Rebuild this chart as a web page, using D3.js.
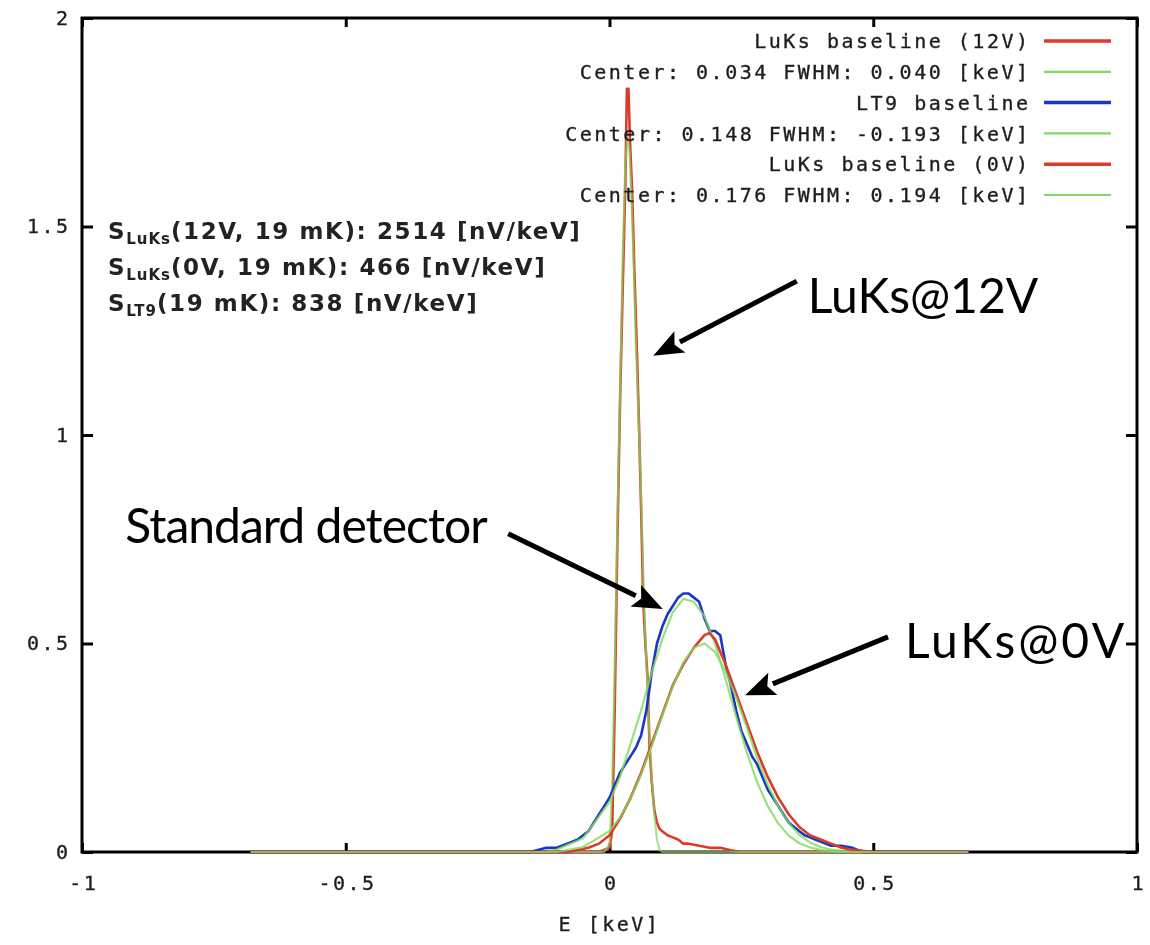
<!DOCTYPE html>
<html>
<head>
<meta charset="utf-8">
<script src="https://cdn.jsdelivr.net/npm/d3@7"></script>
<style>
  html, body { margin: 0; padding: 0; background: #fff; }
  svg { display: block; }
  .mono { font-family: "DejaVu Sans Mono", monospace; font-size: 20px; letter-spacing: 2.5px; fill: #1e1e1e; stroke: #1e1e1e; stroke-width: 0.35px; }
  .note { font-family: "DejaVu Sans", sans-serif; font-weight: bold; font-size: 23px; letter-spacing: 1.6px; fill: #222; }
  .big { font-family: Lato, "Open Sans", sans-serif; font-size: 48px; fill: #000; }
</style>
</head>
<body>
<svg id="chart" width="1150" height="945"></svg>
<script>
// Axis ticks
const xTicks = [-1, -0.5, 0, 0.5, 1];
const xTickLabels = ["-1", "-0.5", "0", "0.5", "1"];
const yTicks = [0, 0.5, 1, 1.5, 2];
const yTickLabels = ["0", "0.5", "1", "1.5", "2"];

// LuKs baseline at 12 V: histogram [E keV, counts]
const luks12V = [[-0.68,0],[-0.02,0],[0,0.01],[0.005,0.05],[0.01,0.35],[0.015,0.75],[0.02,1.08],[0.025,1.35],
  [0.03,1.6],[0.033,1.83],[0.036,1.83],[0.039,1.7],[0.043,1.58],[0.047,1.4],[0.052,1.2],[0.056,1.02],
  [0.06,0.82],[0.064,0.6],[0.068,0.5],[0.072,0.42],[0.076,0.25],[0.08,0.17],[0.085,0.1],[0.09,0.07],
  [0.095,0.055],[0.1,0.05],[0.11,0.04],[0.12,0.035],[0.13,0.03],[0.14,0.02],[0.15,0.02],[0.17,0.015],
  [0.19,0.01],[0.21,0.01],[0.23,0.004],[0.25,0],[0.68,0]];
// Gaussian fit of the 12 V baseline
const luks12VFit = [[-0.68,0],[-0.01,0],[0,0.02],[0.005,0.15],[0.01,0.45],[0.015,0.8],[0.02,1.1],[0.025,1.42],
  [0.03,1.65],[0.034,1.72],[0.038,1.68],[0.042,1.56],[0.046,1.4],[0.05,1.22],[0.055,1.05],[0.06,0.85],
  [0.065,0.62],[0.07,0.45],[0.075,0.3],[0.08,0.18],[0.085,0.09],[0.09,0.03],[0.095,0.005],[0.1,0],[0.68,0]];

// LT9 baseline histogram
const lt9 = [[-0.68,0],[-0.15,0],[-0.12,0.01],[-0.1,0.01],[-0.08,0.02],[-0.06,0.03],[-0.05,0.04],[-0.04,0.05],
  [-0.03,0.07],[-0.02,0.09],[-0.01,0.11],[0,0.13],[0.01,0.16],[0.02,0.19],[0.03,0.21],[0.04,0.23],
  [0.05,0.25],[0.06,0.28],[0.07,0.34],[0.08,0.43],[0.09,0.5],[0.1,0.54],[0.11,0.57],[0.12,0.59],
  [0.13,0.61],[0.14,0.62],[0.15,0.62],[0.16,0.61],[0.17,0.6],[0.18,0.56],[0.19,0.53],[0.2,0.53],
  [0.21,0.52],[0.22,0.45],[0.23,0.4],[0.24,0.34],[0.25,0.29],[0.26,0.26],[0.27,0.23],[0.28,0.21],
  [0.29,0.18],[0.3,0.15],[0.31,0.13],[0.32,0.11],[0.33,0.09],[0.34,0.07],[0.35,0.06],[0.36,0.05],
  [0.37,0.04],[0.38,0.035],[0.39,0.03],[0.4,0.025],[0.42,0.015],[0.44,0.015],[0.46,0.01],[0.48,0],[0.68,0]];
// Gaussian fit of the LT9 baseline
const lt9Fit = [[-0.68,0],[-0.12,0],[-0.1,0.006],[-0.05,0.033],[0,0.12],[0.02,0.18],[0.04,0.26],[0.06,0.34],
  [0.08,0.43],[0.1,0.51],[0.12,0.575],[0.14,0.607],[0.16,0.6],[0.18,0.565],[0.2,0.5],[0.22,0.415],
  [0.24,0.325],[0.26,0.24],[0.28,0.167],[0.3,0.11],[0.32,0.068],[0.34,0.039],[0.36,0.021],[0.38,0.011],
  [0.4,0.005],[0.42,0.002],[0.44,0],[0.68,0]];

// LuKs baseline at 0 V histogram
const luks0V = [[-0.68,0],[-0.08,0],[-0.06,0.005],[-0.04,0.01],[-0.02,0.02],[0,0.04],[0.02,0.08],[0.04,0.13],
  [0.06,0.19],[0.08,0.26],[0.1,0.33],[0.12,0.4],[0.14,0.45],[0.16,0.49],[0.18,0.52],[0.19,0.525],
  [0.2,0.51],[0.22,0.45],[0.24,0.38],[0.26,0.31],[0.28,0.24],[0.3,0.18],[0.32,0.13],[0.34,0.09],
  [0.36,0.06],[0.38,0.04],[0.4,0.03],[0.42,0.02],[0.44,0.01],[0.46,0.005],[0.5,0],[0.68,0]];
// Gaussian fit of the 0 V baseline
const luks0VFit = [[-0.68,0],[-0.1,0],[-0.05,0.012],[0,0.05],[0.02,0.083],[0.04,0.128],[0.06,0.186],
  [0.08,0.254],[0.1,0.327],[0.12,0.397],[0.14,0.455],[0.16,0.49],[0.18,0.5],[0.2,0.48],[0.22,0.433],
  [0.24,0.37],[0.26,0.3],[0.28,0.225],[0.3,0.161],[0.32,0.109],[0.34,0.069],[0.36,0.041],[0.38,0.023],
  [0.4,0.012],[0.42,0.006],[0.44,0.003],[0.46,0],[0.68,0]];

// Legend entries (top to bottom)
const legendLabels = ["LuKs baseline (12V)", "Center: 0.034 FWHM: 0.040 [keV]", "LT9 baseline",
  "Center: 0.148 FWHM: -0.193 [keV]", "LuKs baseline (0V)", "Center: 0.176 FWHM: 0.194 [keV]"];
const legendColors = ["#dd3a2c", "#7fd95e", "#1c35c4", "#7fd95e", "#dd3a2c", "#7fd95e"];

// Sensitivity notes
const noteSubs = ["LuKs", "LuKs", "LT9"];
const noteRest = ["(12V, 19 mK): 2514 [nV/keV]", "(0V, 19 mK): 466 [nV/keV]", "(19 mK): 838 [nV/keV]"];

// Callouts: label, label anchor (E, value), arrow tail and head (E, value)
const callouts = [
  { text: "LuKs@12V", at: [0.376, 1.293], from: [0.355, 1.369], to: [0.083, 1.19], ls: 0 },
  { text: "Standard detector", at: [-0.918, 0.741], from: [-0.192, 0.763], to: [0.101, 0.583], ls: -1 },
  { text: "LuKs@0V", at: [0.56, 0.465], from: [0.528, 0.516], to: [0.257, 0.376], ls: 2.8 }
];

const RED = "#dd3a2c", BLUE = "#1c35c4", GREEN = "#7fd95e";

const svg = d3.select("#chart");
const x = d3.scaleLinear().domain([-1, 1]).range([82, 1137]);
const y = d3.scaleLinear().domain([0, 2]).range([852, 18]);

// soft rendering for the plot panel
svg.append("defs").append("filter").attr("id", "soft")
  .attr("x", "-2%").attr("y", "-2%").attr("width", "104%").attr("height", "104%")
  .append("feGaussianBlur").attr("stdDeviation", 0.55);

const plot = svg.append("g").attr("filter", "url(#soft)");

// frame
plot.append("rect")
  .attr("x", x(-1)).attr("y", y(2))
  .attr("width", x(1) - x(-1)).attr("height", y(0) - y(2))
  .attr("fill", "none").attr("stroke", "#000").attr("stroke-width", 3);

// inward ticks on all four sides
const axLeft = plot.append("g").attr("transform", `translate(${x(-1)},0)`)
  .call(d3.axisLeft(y).tickValues(yTicks).tickSize(-11).tickPadding(14)
    .tickFormat((d, i) => yTickLabels[i]));
const axRight = plot.append("g").attr("transform", `translate(${x(1)},0)`)
  .call(d3.axisRight(y).tickValues(yTicks).tickSize(-11).tickFormat(""));
const axBottom = plot.append("g").attr("transform", `translate(0,${y(0)})`)
  .call(d3.axisBottom(x).tickValues(xTicks).tickSize(-9).tickPadding(24)
    .tickFormat((d, i) => xTickLabels[i]));
const axTop = plot.append("g").attr("transform", `translate(0,${y(2)})`)
  .call(d3.axisTop(x).tickValues(xTicks).tickSize(-9).tickFormat(""));

[axLeft, axRight, axBottom, axTop].forEach(g => {
  g.select(".domain").remove();
  g.selectAll(".tick line").attr("stroke", "#000").attr("stroke-width", 3);
  g.selectAll(".tick text").attr("class", "mono");
  g.attr("font-family", null).attr("font-size", null);
});
axLeft.selectAll(".tick text").attr("dx", 2.5);
axBottom.selectAll(".tick text").attr("dx", 1.25);

// axis title
plot.append("text").attr("class", "mono")
  .attr("x", x(0)).attr("y", 931).attr("text-anchor", "middle")
  .text("E [keV]");

// spectra and fits
const line = d3.line().x(d => x(d[0])).y(d => y(d[1]));
const curves = [
  { data: luks12V, color: RED, w: 2.6, op: 1 },
  { data: luks12VFit, color: GREEN, w: 2.2, op: 0.7 },
  { data: lt9, color: BLUE, w: 2.6, op: 1 },
  { data: lt9Fit, color: GREEN, w: 2.2, op: 0.8 },
  { data: luks0V, color: RED, w: 2.6, op: 1 },
  { data: luks0VFit, color: GREEN, w: 2.2, op: 0.8 }
];
plot.selectAll("path.curve").data(curves).join("path")
  .attr("class", "curve")
  .attr("d", d => line(d.data))
  .attr("fill", "none")
  .attr("stroke", d => d.color)
  .attr("stroke-width", d => d.w)
  .attr("stroke-opacity", d => d.op)
  .attr("stroke-linejoin", "round");

// legend
const leg = plot.append("g");
legendLabels.forEach((lab, i) => {
  const yy = 41 + i * 30.8;
  leg.append("text").attr("class", "mono")
    .attr("x", 1030.5).attr("y", yy).attr("dy", "0.36em")
    .attr("text-anchor", "end").text(lab);
  leg.append("line")
    .attr("x1", 1044).attr("x2", 1111).attr("y1", yy).attr("y2", yy)
    .attr("stroke", legendColors[i]).attr("stroke-width", i % 2 === 0 ? 3.5 : 2.2);
});

// sensitivity notes
noteRest.forEach((rest, i) => {
  const t = plot.append("text").attr("class", "note")
    .attr("x", 108).attr("y", 239 + i * 36);
  t.append("tspan").text("S");
  t.append("tspan").attr("font-size", 15).attr("letter-spacing", 1).attr("dy", 5).text(noteSubs[i]);
  t.append("tspan").attr("dy", -5).text(rest);
});

// callouts with arrows
const ann = svg.append("g");
callouts.forEach(c => {
  ann.append("text").attr("class", "big")
    .attr("letter-spacing", c.ls)
    .attr("x", x(c.at[0])).attr("y", y(c.at[1])).text(c.text);
  const x1 = x(c.from[0]), y1 = y(c.from[1]), x2 = x(c.to[0]), y2 = y(c.to[1]);
  const a = Math.atan2(y2 - y1, x2 - x1);
  const L = 30, Hw = 12;
  const bx = x2 - L * Math.cos(a), by = y2 - L * Math.sin(a);
  ann.append("line")
    .attr("x1", x1).attr("y1", y1).attr("x2", bx).attr("y2", by)
    .attr("stroke", "#000").attr("stroke-width", 5);
  const pts = [
    [x2, y2],
    [bx + Hw * Math.sin(a), by - Hw * Math.cos(a)],
    [bx + 6 * Math.cos(a), by + 6 * Math.sin(a)],
    [bx - Hw * Math.sin(a), by + Hw * Math.cos(a)]
  ];
  ann.append("polygon").attr("points", pts.map(p => p.join(",")).join(" ")).attr("fill", "#000");
});
</script>
</body>
</html>
